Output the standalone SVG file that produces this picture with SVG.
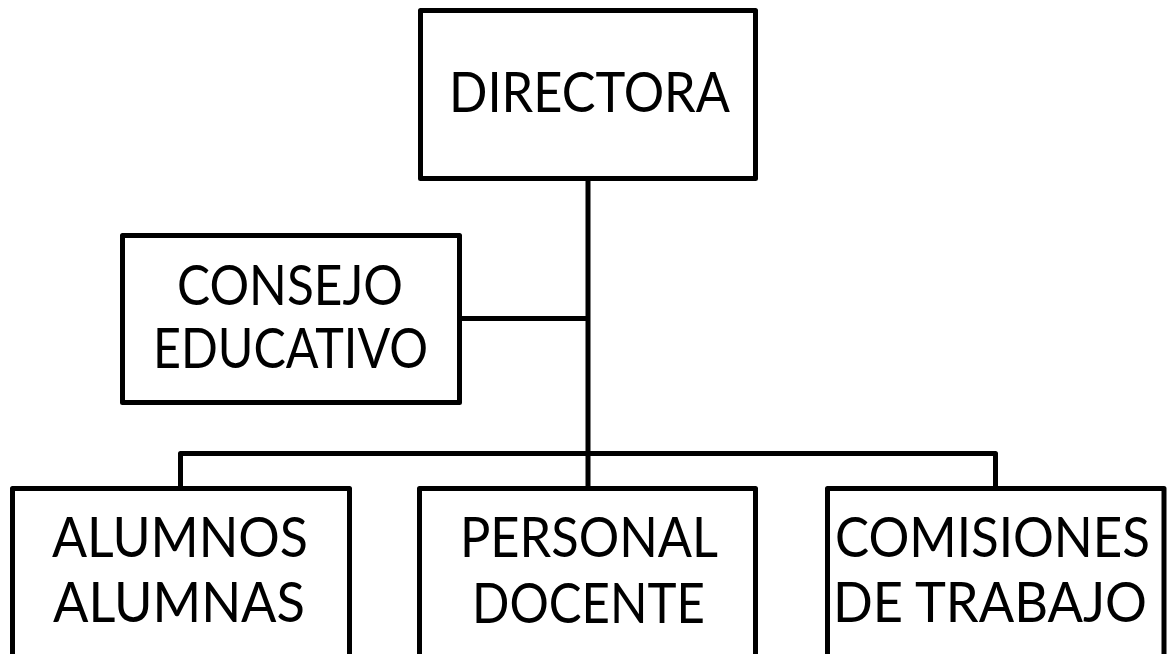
<svg xmlns="http://www.w3.org/2000/svg" width="1167" height="654" viewBox="0 0 1167 654">
<style>
.box{fill:#fff;stroke:#000;stroke-width:5;stroke-linejoin:round}
.con{fill:none;stroke:#000;stroke-width:5;stroke-linejoin:round}
.t{font-family:Lato,"Open Sans","Liberation Sans",sans-serif;font-size:56px;fill:#000;text-anchor:middle}
</style>
<rect width="1167" height="654" fill="#fff"/>
<g id="connectors">
<line class="con" x1="588" y1="178.5" x2="588" y2="488.5"/>
<line class="con" x1="459.5" y1="318.5" x2="588" y2="318.5"/>
<polyline class="con" points="180.5,488.5 180.5,453.5 995.5,453.5 995.5,488.5"/>
</g>
<g id="directora">
<rect class="box" x="420.5" y="10.5" width="335" height="168"/>
<text class="t" x="589.5" y="112" textLength="281" lengthAdjust="spacingAndGlyphs">DIRECTORA</text>
</g>
<g id="consejo">
<rect class="box" x="122.5" y="235.5" width="337" height="167"/>
<text class="t" x="290" y="305" textLength="226" lengthAdjust="spacingAndGlyphs">CONSEJO</text>
<text class="t" x="290.5" y="368" textLength="275" lengthAdjust="spacingAndGlyphs">EDUCATIVO</text>
</g>
<g id="alumnos">
<rect class="box" x="12.5" y="488.5" width="337" height="180"/>
<text class="t" x="180" y="557" textLength="256" lengthAdjust="spacingAndGlyphs">ALUMNOS</text>
<text class="t" x="179" y="622" textLength="252" lengthAdjust="spacingAndGlyphs">ALUMNAS</text>
</g>
<g id="personal">
<rect class="box" x="419.5" y="488.5" width="336" height="180"/>
<text class="t" x="589" y="557" textLength="258" lengthAdjust="spacingAndGlyphs">PERSONAL</text>
<text class="t" x="588.5" y="623" textLength="233" lengthAdjust="spacingAndGlyphs">DOCENTE</text>
</g>
<g id="comisiones">
<rect class="box" x="827.5" y="488.5" width="336.5" height="180"/>
<text class="t" x="992.5" y="557" textLength="315" lengthAdjust="spacingAndGlyphs">COMISIONES</text>
<text class="t" x="990" y="622" textLength="314" lengthAdjust="spacingAndGlyphs">DE TRABAJO</text>
</g>
</svg>
